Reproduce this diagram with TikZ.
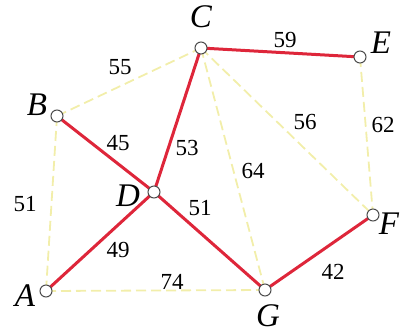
\documentclass[tikz,border=0pt]{standalone}
\usepackage{fontspec}
\setmainfont{Liberation Serif}
\definecolor{treered}{RGB}{222,38,58}
\definecolor{paleyellow}{RGB}{242,238,170}
\begin{document}
\begin{tikzpicture}[x=1pt,y=-1pt,
  vtx/.style={circle,draw=black!70,fill=white,line width=1pt,inner sep=0pt,minimum size=12pt},
  tree/.style={draw=treered,line width=3pt},
  other/.style={draw=paleyellow,line width=1.8pt,dash pattern=on 10pt off 5pt},
  wt/.style={font=\fontsize{23}{23}\selectfont,inner sep=0pt},
  lbl/.style={font=\fontsize{33}{33}\selectfont\itshape,inner sep=0pt}]
\useasboundingbox (0,0) rectangle (401,335);
\coordinate (pC) at (201,48);
\coordinate (pE) at (360,57);
\coordinate (pB) at (57,116);
\coordinate (pD) at (154,192);
\coordinate (pA) at (46,291);
\coordinate (pG) at (265,290);
\coordinate (pF) at (373,215);
% dashed non-tree edges
\draw[other] (pB) -- (pC);
\draw[other] (pB) -- (pA);
\draw[other] (pA) -- (pG);
\draw[other] (pC) -- (pG);
\draw[other] (pC) -- (pF);
\draw[other] (pE) -- (pF);
% tree edges
\draw[tree] (pC) -- (pE);
\draw[tree] (pB) -- (pD);
\draw[tree] (pC) -- (pD);
\draw[tree] (pA) -- (pD);
\draw[tree] (pD) -- (pG);
\draw[tree] (pG) -- (pF);
% vertices
\node[vtx] (C) at (pC) {};
\node[vtx] (E) at (pE) {};
\node[vtx] (B) at (pB) {};
\node[vtx] (D) at (pD) {};
\node[vtx] (A) at (pA) {};
\node[vtx] (G) at (pG) {};
\node[vtx] (F) at (pF) {};
% vertex labels
\node[lbl] (lC) at (201,17) {C};
\node[lbl] (lE) at (381,43) {E};
\node[lbl] (lB) at (37,105) {B};
\node[lbl] (lD) at (128,196) {D};
\node[lbl] (lA) at (25,296) {A};
\node[lbl] (lG) at (268,316) {G};
\node[lbl] (lF) at (389,224) {F};
% weights
\node[wt] (w55) at (120,67) {55};
\node[wt] (w59) at (285,40) {59};
\node[wt] (w45) at (118,143) {45};
\node[wt] (w53) at (187,148) {53};
\node[wt] (w56) at (305,122) {56};
\node[wt] (w62) at (383,125) {62};
\node[wt] (w64) at (253,171) {64};
\node[wt] (w51a) at (25,204) {51};
\node[wt] (w51b) at (200,208) {51};
\node[wt] (w49) at (118,250) {49};
\node[wt] (w74) at (172,282) {74};
\node[wt] (w42) at (333,272) {42};
\end{tikzpicture}
\end{document}
